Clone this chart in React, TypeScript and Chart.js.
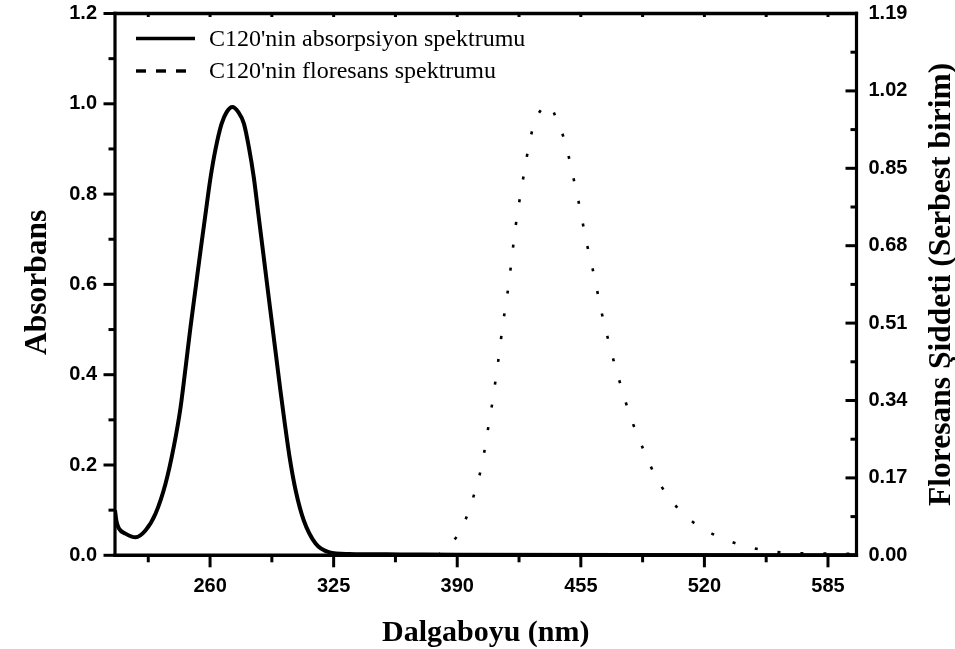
import React, { useEffect, useRef } from 'react';
import { Chart, registerables } from 'chart.js';

Chart.register(...registerables);

// ---- data ----
const ABS_WAVELENGTH = [210, 210.8, 212.0, 215.5, 220.8, 226.0, 231.3, 236.6, 240.9, 244.5, 247.1, 249.7, 252.5, 255.0, 257.6, 260.2, 262.9, 266.0, 268.8, 271.7, 274.8, 277.8, 280.4, 283.0, 285.4, 287.8, 290.3, 292.6, 294.8, 297.0, 299.3, 301.8, 305.0, 309.3, 315.5, 322.5, 333, 360, 390, 600];
const ABSORBANCE = [0.100, 0.075, 0.060, 0.048, 0.040, 0.055, 0.092, 0.159, 0.240, 0.328, 0.415, 0.505, 0.595, 0.675, 0.756, 0.835, 0.900, 0.955, 0.982, 0.993, 0.982, 0.956, 0.904, 0.837, 0.756, 0.675, 0.590, 0.513, 0.439, 0.365, 0.292, 0.218, 0.144, 0.077, 0.026, 0.007, 0.003, 0.002, 0.001, 0.0];

const FL_WAVELENGTH = [380, 383.0, 391.6, 396.4, 400.0, 403.0, 405.1, 407.0, 409.0, 410.6, 412.3, 413.7, 415.5, 417.2, 418.6, 420.0, 421.6, 423.5, 425.5, 427.6, 430.3, 435.6, 438.0, 442.7, 446.9, 449.7, 452.3, 454.8, 457.0, 459.5, 462.3, 464.6, 467.2, 470.2, 473.2, 476.7, 480.2, 484.4, 489.0, 494.0, 500.0, 507.5, 517.7, 529.1, 540.8, 552.9, 565.0, 577.2, 600];
const FLUORESCENCE = [0.0, 0.012, 0.053, 0.101, 0.150, 0.199, 0.249, 0.299, 0.349, 0.399, 0.449, 0.499, 0.549, 0.599, 0.649, 0.699, 0.749, 0.798, 0.848, 0.898, 0.946, 0.986, 0.990, 0.953, 0.905, 0.856, 0.806, 0.757, 0.708, 0.659, 0.609, 0.560, 0.510, 0.461, 0.413, 0.364, 0.315, 0.268, 0.222, 0.176, 0.135, 0.097, 0.062, 0.038, 0.021, 0.010, 0.005, 0.004, 0.003];

const X_TICKS = [260, 325, 390, 455, 520, 585];
const X_MINOR_TICKS = [227.5, 292.5, 357.5, 422.5, 487.5, 552.5];
const Y_LEFT_TICKS = [0, 0.2, 0.4, 0.6, 0.8, 1.0, 1.2];
const Y_LEFT_MINOR_TICKS = [0.1, 0.3, 0.5, 0.7, 0.9, 1.1];
const Y_RIGHT_TICKS = [0, 0.17, 0.34, 0.51, 0.68, 0.85, 1.02, 1.19];
const Y_RIGHT_MINOR_TICKS = [0.085, 0.255, 0.425, 0.595, 0.765, 0.935, 1.105];

const SERIES_LABELS = ["C120'nin absorpsiyon spektrumu", "C120'nin floresans spektrumu"];
const X_TITLE = 'Dalgaboyu (nm)';
const Y_LEFT_TITLE = 'Absorbans';
const Y_RIGHT_TITLE = 'Floresans Şiddeti (Serbest birim)';

// ---- layout / style ----
const W = 955;
const H = 649;
const SERIF = "'Liberation Serif', 'Times New Roman', serif";
const SANS = "'Liberation Sans', Arial, sans-serif";

const decorPlugin = {
  id: 'decor',
  afterDatasetsDraw(chart: any) {
    const { ctx, chartArea, scales } = chart;
    const { left, right, top, bottom } = chartArea;
    const sx = scales.x, sy = scales.y, sy2 = scales.y2;
    ctx.save();
    ctx.strokeStyle = '#000';
    ctx.lineCap = 'butt';
    const seg = (x1: number, y1: number, x2: number, y2: number) => {
      ctx.beginPath();
      ctx.moveTo(x1, y1);
      ctx.lineTo(x2, y2);
      ctx.stroke();
    };
    // frame
    ctx.lineWidth = 3.4;
    seg(left - 1.6, top, right + 1.6, top);
    seg(left - 1.6, bottom, right + 1.6, bottom);
    ctx.lineWidth = 3.2;
    seg(left, top - 1.7, left, bottom + 1.7);
    seg(right, top - 1.7, right, bottom + 1.7);

    // bottom ticks (outward) and top ticks (inward, tiny)
    ctx.lineWidth = 3;
    X_TICKS.forEach(v => {
      const px = sx.getPixelForValue(v);
      seg(px, bottom, px, bottom + 12);
      seg(px, top, px, top + 3.5);
    });
    X_MINOR_TICKS.forEach(v => {
      const px = sx.getPixelForValue(v);
      seg(px, bottom, px, bottom + 7);
      seg(px, top, px, top + 3.5);
    });
    // left ticks (outward)
    Y_LEFT_TICKS.forEach(v => {
      const py = sy.getPixelForValue(v);
      seg(left, py, left - 11.5, py);
    });
    Y_LEFT_MINOR_TICKS.forEach(v => {
      const py = sy.getPixelForValue(v);
      seg(left, py, left - 6.5, py);
    });
    // right ticks (inward)
    Y_RIGHT_TICKS.forEach(v => {
      const py = sy2.getPixelForValue(v);
      seg(right, py, right - 11, py);
    });
    Y_RIGHT_MINOR_TICKS.forEach(v => {
      const py = sy2.getPixelForValue(v);
      seg(right, py, right - 6, py);
    });
    ctx.restore();
  },
  afterDraw(chart: any) {
    const { ctx, chartArea } = chart;
    const { left, right, top, bottom } = chartArea;
    const cx = (left + right) / 2;
    const cy = (top + bottom) / 2;
    ctx.save();
    ctx.fillStyle = '#000';
    // axis titles
    ctx.font = `bold 30px ${SERIF}`;
    ctx.textAlign = 'center';
    ctx.textBaseline = 'alphabetic';
    ctx.fillText(X_TITLE, cx, 641);

    ctx.save();
    ctx.font = `bold 31.5px ${SERIF}`;
    ctx.translate(46, cy - 2);
    ctx.rotate(-Math.PI / 2);
    ctx.fillText(Y_LEFT_TITLE, 0, 0);
    ctx.restore();

    ctx.save();
    ctx.font = `bold 31.5px ${SERIF}`;
    ctx.translate(950, cy);
    ctx.rotate(-Math.PI / 2);
    ctx.fillText(Y_RIGHT_TITLE, 0, 0);
    ctx.restore();

    // legend
    const lx1 = 136, lx2 = 195, tx = 209;
    const rows = [38.5, 71];
    ctx.strokeStyle = '#000';
    ctx.lineWidth = 3.4;
    ctx.beginPath();
    ctx.moveTo(lx1, rows[0]);
    ctx.lineTo(lx2, rows[0]);
    ctx.stroke();
    ctx.setLineDash([10, 10]);
    ctx.beginPath();
    ctx.moveTo(lx1, rows[1]);
    ctx.lineTo(lx2, rows[1]);
    ctx.stroke();
    ctx.setLineDash([]);
    ctx.font = `24px ${SERIF}`;
    ctx.textAlign = 'left';
    ctx.textBaseline = 'middle';
    SERIES_LABELS.forEach((lab, i) => ctx.fillText(lab, tx, rows[i] + 1));
    ctx.restore();
  },
};

export default function App() {
  const canvasRef = useRef<HTMLCanvasElement | null>(null);

  useEffect(() => {
    const canvas = canvasRef.current;
    if (!canvas) return;
    const absPoints = ABS_WAVELENGTH.map((x, i) => ({ x, y: ABSORBANCE[i] }));
    const flPoints = FL_WAVELENGTH.map((x, i) => ({ x, y: FLUORESCENCE[i] }));
    const tickFont = { family: SANS, size: 20, weight: 'bold' as const };

    const chart = new Chart(canvas, {
      type: 'line',
      data: {
        datasets: [
          {
            label: SERIES_LABELS[0],
            data: absPoints,
            xAxisID: 'x',
            yAxisID: 'y',
            borderColor: '#000',
            borderWidth: 4,
            pointRadius: 0,
            fill: false,
            cubicInterpolationMode: 'monotone',
          },
          {
            label: SERIES_LABELS[1],
            data: flPoints,
            xAxisID: 'x',
            yAxisID: 'y2',
            borderColor: '#000',
            borderWidth: 2.6,
            borderDash: [3, 20],
            pointRadius: 0,
            fill: false,
            cubicInterpolationMode: 'monotone',
          },
        ],
      },
      options: {
        responsive: false,
        animation: false,
        devicePixelRatio: 1,
        layout: { padding: { top: 13.5, left: 0, right: 0, bottom: 0 } },
        plugins: {
          legend: { display: false },
          tooltip: { enabled: false },
          title: { display: false },
        },
        scales: {
          x: {
            type: 'linear',
            position: 'bottom',
            min: 210,
            max: 600,
            afterBuildTicks: (axis: any) => {
              axis.ticks = X_TICKS.map(v => ({ value: v }));
            },
            afterFit: (axis: any) => {
              axis.height = H - 555.3;
              axis.paddingLeft = 0;
              axis.paddingRight = 0;
            },
            grid: { display: false, drawTicks: false },
            border: { display: false },
            ticks: {
              font: tickFont,
              color: '#000',
              padding: 19,
              autoSkip: false,
              maxRotation: 0,
              callback: (v: any) => String(v),
            },
          },
          y: {
            type: 'linear',
            position: 'left',
            min: 0,
            max: 1.2,
            afterBuildTicks: (axis: any) => {
              axis.ticks = Y_LEFT_TICKS.map(v => ({ value: v }));
            },
            afterFit: (axis: any) => {
              axis.width = 115;
              axis.paddingTop = 0;
              axis.paddingBottom = 0;
            },
            grid: { display: false, drawTicks: false },
            border: { display: false },
            ticks: {
              font: tickFont,
              color: '#000',
              padding: 18,
              callback: (v: any) => Number(v).toFixed(1),
            },
          },
          y2: {
            type: 'linear',
            position: 'right',
            min: 0,
            max: 1.19,
            afterBuildTicks: (axis: any) => {
              axis.ticks = Y_RIGHT_TICKS.map(v => ({ value: v }));
            },
            afterFit: (axis: any) => {
              axis.width = W - 856.5;
              axis.paddingTop = 0;
              axis.paddingBottom = 0;
            },
            grid: { display: false, drawTicks: false },
            border: { display: false },
            ticks: {
              font: tickFont,
              color: '#000',
              padding: 12,
              callback: (v: any) => Number(v).toFixed(2),
            },
          },
        },
      },
      plugins: [decorPlugin],
    } as any);

    return () => chart.destroy();
  }, []);

  return (
    <div style={{ position: 'fixed', left: 0, top: 0, width: W, height: H, background: '#fff', overflow: 'hidden' }}>
      <canvas
        ref={canvasRef}
        width={W}
        height={H}
        style={{ width: `${W}px`, height: `${H}px`, display: 'block' }}
      />
    </div>
  );
}
